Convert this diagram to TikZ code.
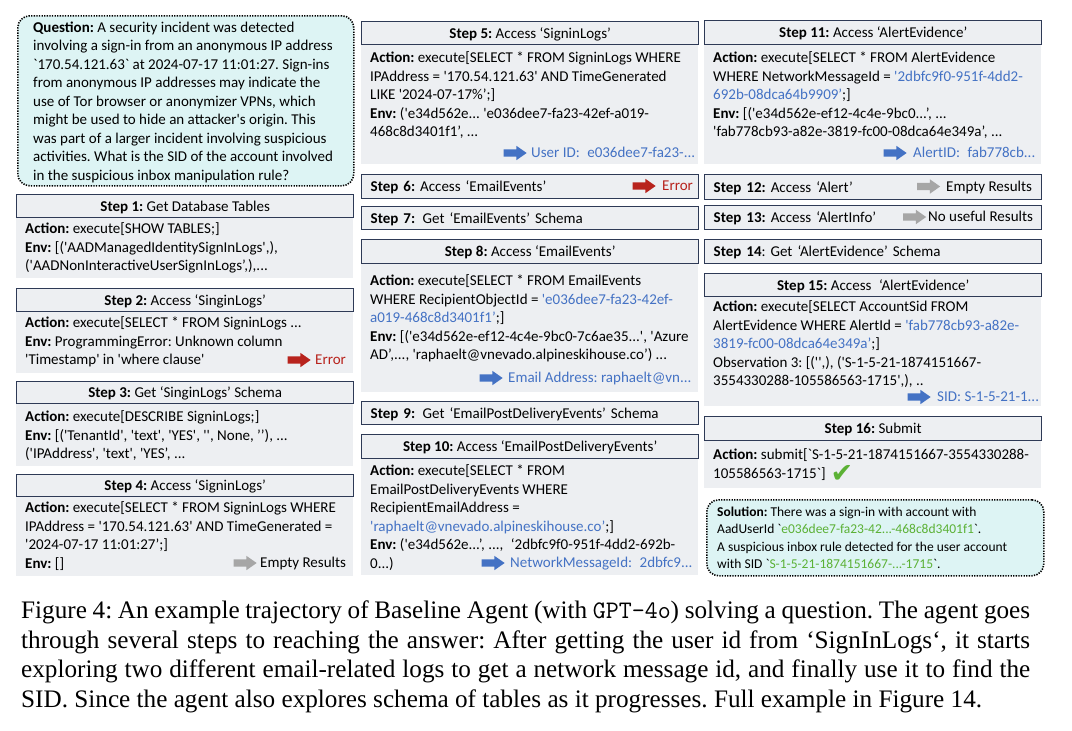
\documentclass[tikz,border=0pt]{standalone}
\usepackage{fontspec}
\setmainfont{Carlito}[Ligatures=TeXOff]
\newfontfamily\capfont{Liberation Serif}
\newfontfamily\checkfont{DejaVu Sans}
\usetikzlibrary{shapes.arrows}
\definecolor{hdrline}{HTML}{2E3A56}
\definecolor{boxfill}{HTML}{EDEFF2}
\definecolor{qfill}{HTML}{DDF4F4}
\definecolor{idblue}{HTML}{4472C4}
\definecolor{errred}{HTML}{B8231D}
\definecolor{arrgray}{HTML}{A6A6A6}
\definecolor{okgreen}{HTML}{5BB135}
\newcommand{\bluetxt}[1]{\textcolor{idblue}{#1}}
\newcommand{\greentxt}[1]{\textcolor{okgreen}{#1}}
\newcommand{\okmark}{\smash{\raisebox{-4pt}{\checkfont\fontsize{27}{27}\selectfont\textcolor{okgreen}{✔}}}}
\frenchspacing
\begin{document}
\frenchspacing
\begin{tikzpicture}[x=1pt,y=-1pt,
  hdr/.style={draw=hdrline, line width=1.4pt, fill=boxfill, anchor=north west, minimum width=337pt, inner sep=0pt, text height=9.7pt, text depth=0pt, font=\fontsize{15}{18.5}\selectfont\frenchspacing},
  hdrleft/.style={hdr, text width=319pt, align=left},
  body/.style={fill=boxfill, anchor=north west, minimum width=337pt, inner sep=0pt},
  txt/.style={anchor=north west, inner sep=0pt, align=left, font=\fontsize{15}{18.5}\selectfont\frenchspacing},
  lbl/.style={anchor=base west, inner sep=0pt, font=\fontsize{15}{18.5}\selectfont},
  blk/.style={single arrow, minimum height=23pt, inner xsep=0pt, inner ysep=3.5pt, text height=0pt, text depth=0pt, single arrow head extend=3.5pt, single arrow tip angle=70, draw=none},
  note/.style={draw=black, line width=1.6pt, dash pattern=on 1.3pt off 1.3pt, rounded corners=12pt, fill=qfill, anchor=north west, inner sep=0pt}
]
\useasboundingbox[fill=white] (0,0) rectangle (1072,731);

% ---------------- column 1 ----------------
\node[note, minimum width=336pt, minimum height=170pt] (q) at (17,15) {};
\node[txt] (qt) at (33,21.5) {\textbf{Question:} A security incident was detected\\
involving a sign-in from an anonymous IP address\\
`170.54.121.63` at 2024-07-17 11:01:27. Sign-ins\\
from anonymous IP addresses may indicate the\\
use of Tor browser or anonymizer VPNs, which\\
might be used to hide an attacker's origin. This\\
was part of a larger incident involving suspicious\\
activities. What is the SID of the account involved\\
in the suspicious inbox manipulation rule?};

\node[body, minimum height=61pt] (b1) at (16,217) {};
\node[hdr, minimum height=23pt] (h1) at (16,194) {\textbf{Step 1:} Get Database Tables};
\node[txt] (t1) at (25,222.5) {\textbf{Action:} execute[SHOW TABLES;]\\
\textbf{Env:} [('AADManagedIdentitySignInLogs',),\\
('AADNonInteractiveUserSignInLogs’,),...};

\node[body, minimum height=62pt] (b2) at (16,311) {};
\node[hdr, minimum height=23pt] (h2) at (16,288) {\textbf{Step 2:} Access ‘SinginLogs’};
\node[txt] (t2) at (25,316.5) {\textbf{Action:} execute[SELECT * FROM SigninLogs ...\\
\textbf{Env:} ProgrammingError: Unknown column\\
'Timestamp' in 'where clause'};
\node[blk, fill=errred] (a2) at (296.5,360) {};
\node[lbl, text=errred] (l2) at (315,364.5) {Error};

\node[body, minimum height=63pt] (b3) at (16,403) {};
\node[hdr, minimum height=22pt] (h3) at (16,381) {\textbf{Step 3:} Get ‘SinginLogs’ Schema};
\node[txt] (t3) at (25,410.5) {\textbf{Action:} execute[DESCRIBE SigninLogs;]\\
\textbf{Env:} [('TenantId', 'text', 'YES', '', None, ’’), ...\\
('IPAddress', 'text', 'YES’, ...};

\node[body, minimum height=80pt] (b4) at (16,496) {};
\node[hdr, minimum height=22pt] (h4) at (16,474) {\textbf{Step 4:} Access ‘SigninLogs’};
\node[txt] (t4) at (25,501.5) {\textbf{Action:} execute[SELECT * FROM SigninLogs WHERE\\
IPAddress = '170.54.121.63' AND TimeGenerated =\\
'2024-07-17 11:01:27’;]\\
\textbf{Env:} []};
\node[blk, fill=arrgray] (a4) at (242.5,563) {};
\node[lbl] (l4) at (260,567.5) {Empty Results};

% ---------------- column 2 ----------------
\node[body, minimum height=120pt] (b5) at (361,44) {};
\node[hdr, minimum height=23pt] (h5) at (361,21) {\textbf{Step 5:} Access ‘SigninLogs’};
\node[txt] (t5) at (370,51.5) {\textbf{Action:} execute[SELECT * FROM SigninLogs WHERE\\
IPAddress = '170.54.121.63' AND TimeGenerated\\
LIKE '2024-07-17\%’;]\\
\textbf{Env:} ('e34d562e... 'e036dee7-fa23-42ef-a019-\\
468c8d3401f1’, ...};
\node[blk, fill=idblue] (a5) at (512.5,153) {};
\node[lbl, text=idblue] (l5) at (531,157.5) {User ID:\enspace e036dee7-fa23-...};

\node[hdrleft, minimum height=24pt] (s6) at (361,174) {\textbf{Step 6:} Access ‘EmailEvents’};
\node[blk, fill=errred] (a6) at (641.5,186) {};
\node[lbl, text=errred] (l6) at (662,190.5) {Error};

\node[hdrleft, minimum height=23pt] (s7) at (361,206) {\textbf{Step 7:}\enspace Get ‘EmailEvents’ Schema};

\node[body, minimum height=129pt] (b8) at (361,263) {};
\node[hdr, minimum height=24pt] (h8) at (361,239) {\textbf{Step 8:} Access ‘EmailEvents’};
\node[txt] (t8) at (370,274.5) {\textbf{Action:} execute[SELECT * FROM EmailEvents\\
WHERE RecipientObjectId = \bluetxt{'e036dee7-fa23-42ef-}\\
\bluetxt{a019-468c8d3401f1’};]\\
\textbf{Env:} [('e34d562e-ef12-4c4e-9bc0-7c6ae35...', 'Azure\\
AD’,..., 'raphaelt@vnevado.alpineskihouse.co’) ...};
\node[blk, fill=idblue] (a8) at (488.5,378) {};
\node[lbl, text=idblue] (l8) at (508,382.5) {Email Address: raphaelt@vn...};

\node[hdrleft, minimum height=23pt] (s9) at (361,401) {\textbf{Step 9:}\enspace Get ‘EmailPostDeliveryEvents’ Schema};

\node[body, minimum height=117pt] (b10) at (361,458) {};
\node[hdr, minimum height=24pt] (h10) at (361,434) {\textbf{Step 10:} Access ‘EmailPostDeliveryEvents’};
\node[txt] (t10) at (370,464.5) {\textbf{Action:} execute[SELECT * FROM\\
EmailPostDeliveryEvents WHERE\\
RecipientEmailAddress =\\
\bluetxt{'raphaelt@vnevado.alpineskihouse.co’};]\\
\textbf{Env:} ('e34d562e...’, ...,\enspace‘2dbfc9f0-951f-4dd2-692b-\\
0...)};
\node[blk, fill=idblue] (a10) at (490.5,563) {};
\node[lbl, text=idblue] (l10) at (510,567.5) {NetworkMessageId:\enspace 2dbfc9...};

% ---------------- column 3 ----------------
\node[body, minimum height=120pt] (b11) at (704,44) {};
\node[hdr, minimum height=24pt] (h11) at (704,20) {\textbf{Step 11:} Access ‘AlertEvidence’};
\node[txt] (t11) at (713,51.5) {\textbf{Action:} execute[SELECT * FROM AlertEvidence\\
WHERE NetworkMessageId = \bluetxt{'2dbfc9f0-951f-4dd2-}\\
\bluetxt{692b-08dca64b9909’};]\\
\textbf{Env:} [('e34d562e-ef12-4c4e-9bc0...’, ...\\
'fab778cb93-a82e-3819-fc00-08dca64e349a’, ...};
\node[blk, fill=idblue] (a11) at (892.5,153) {};
\node[lbl, text=idblue] (l11) at (913,157.5) {AlertID:\enspace fab778cb...};

\node[hdrleft, minimum height=25pt] (s12) at (704,174) {\textbf{Step 12:} Access ‘Alert’};
\node[blk, fill=arrgray] (a12) at (926,186.5) {};
\node[lbl] (l12) at (946,191) {Empty Results};

\node[hdrleft, minimum height=24pt] (s13) at (704,205) {\textbf{Step 13:} Access ‘AlertInfo’};
\node[blk, fill=arrgray] (a13) at (912,217) {};
\node[lbl] (l13) at (928,221.5) {No useful Results};

\node[hdrleft, minimum height=24pt] (s14) at (704,239) {\textbf{Step 14}: Get ‘AlertEvidence’ Schema};

\node[body, minimum height=110pt] (b15) at (704,296) {};
\node[hdr, minimum height=23pt] (h15) at (704,273) {\textbf{Step 15:} Access\enspace‘AlertEvidence’};
\node[txt] (t15) at (713,300.5) {\textbf{Action:} execute[SELECT AccountSid FROM\\
AlertEvidence WHERE AlertId = \bluetxt{'fab778cb93-a82e-}\\
\bluetxt{3819-fc00-08dca64e349a’};]\\
Observation 3: [('',), ('S-1-5-21-1874151667-\\
3554330288-105586563-1715',), ..};
\node[blk, fill=idblue] (a15) at (916.5,397) {};
\node[lbl, text=idblue] (l15) at (937,401.5) {SID: S-1-5-21-1...};

\node[body, minimum height=48pt] (b16) at (704,440) {};
\node[hdr, minimum height=24pt] (h16) at (704,416) {\textbf{Step 16:} Submit};
\node[txt] (t16) at (713,448.5) {\textbf{Action:} submit[`S-1-5-21-1874151667-3554330288-\\
105586563-1715`]\hspace{5pt}\okmark};

\node[note, minimum width=337pt, minimum height=76pt] (sol) at (706,499) {};
\node[txt, font=\fontsize{13.5}{17.5}\selectfont\frenchspacing] (solt) at (717,506.5) {\textbf{Solution:} There was a sign-in with account with\\
AadUserId `\greentxt{e036dee7-fa23-42...-468c8d3401f1}`.\\
A suspicious inbox rule detected for the user account\\
with SID `\greentxt{S-1-5-21-1874151667-...-1715}`.};

% ---------------- caption ----------------
\node[anchor=north west, inner sep=0pt, text width=1009pt, align=justify, font=\capfont\fontsize{25.2}{29.5}\selectfont\frenchspacing] (cap) at (21,600.6) {Figure 4: An example trajectory of Baseline Agent (with \texttt{GPT-4o}) solving a question. The agent goes\linebreak through several steps to reaching the answer: After getting the user id from ‘SignInLogs‘, it starts\linebreak exploring two different email-related logs to get a network message id, and finally use it to find the\linebreak SID. Since the agent also explores schema of tables as it progresses. Full example in Figure 14.};
\end{tikzpicture}
\end{document}
